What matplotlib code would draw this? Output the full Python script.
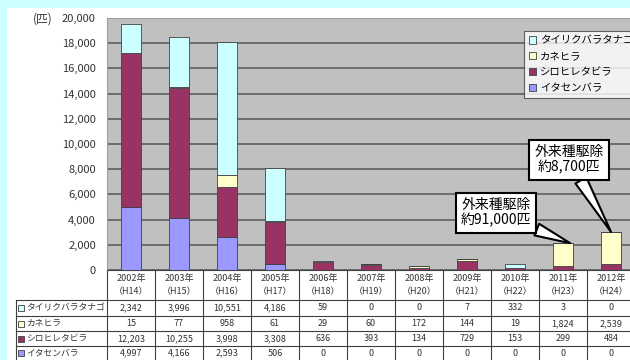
import matplotlib.pyplot as plt
from matplotlib.patches import Patch, Rectangle
from matplotlib.transforms import Affine2D, blended_transform_factory
import numpy as np

plt.rcParams['font.family'] = ['Noto Sans CJK JP', 'DejaVu Sans']

years = ['2002年', '2003年', '2004年', '2005年', '2006年', '2007年',
         '2008年', '2009年', '2010年', '2011年', '2012年']
eras = ['（H14）', '（H15）', '（H16）', '（H17）', '（H18）', '（H19）',
        '（H20）', '（H21）', '（H22）', '（H23）', '（H24）']
species = ['タイリクバラタナゴ', 'カネヒラ', 'シロヒレタビラ', 'イタセンバラ']
tairiku = [2342, 3996, 10551, 4186, 59, 0, 0, 7, 332, 3, 0]
kanehira = [15, 77, 958, 61, 29, 60, 172, 144, 19, 1824, 2539]
shirohire = [12203, 10255, 3998, 3308, 636, 393, 134, 729, 153, 299, 484]
itasen = [4997, 4166, 2593, 506, 0, 0, 0, 0, 0, 0, 0]
colors = ['#ccffff', '#ffffcc', '#993366', '#9999ff']
notes = ['外来種駆除\n約91,000匹', '外来種駆除\n約8,700匹']
note_idx = [9, 10]

W, H = 630, 360
fig = plt.figure(figsize=(W / 100, H / 100), dpi=100, facecolor='#ccffff')
fig.patches.append(Rectangle((7 / W, 0), 1, (H - 8) / H, transform=fig.transFigure,
                             fc='white', ec='none', zorder=-10))

ax = fig.add_axes([107 / W, (H - 270) / H, 528 / W, 252 / H])
ax.set_facecolor('#c0c0c0')
ax.set_xlim(-0.5, 10.5)
ax.set_ylim(0, 20000)
ax.set_yticks(range(0, 20001, 2000))
ax.set_yticklabels([f'{v:,}' for v in range(0, 20001, 2000)], fontsize=8, color='#333333')
ax.tick_params(axis='y', length=0, pad=8)
ax.set_xticks([])
ax.yaxis.grid(True, color='#666666', lw=1.3)
ax.set_axisbelow(True)
for s in ['top', 'right', 'left']:
    ax.spines[s].set_color('#a0a0a0')
ax.spines['bottom'].set_color('#404040')

data = [tairiku, kanehira, shirohire, itasen]
x = np.arange(len(years))
bottom = np.zeros(len(years))
# stack from bottom: イタセンバラ, シロヒレタビラ, カネヒラ, タイリクバラタナゴ
for vals, col in zip(data[::-1], colors[::-1]):
    ax.bar(x, vals, 0.4, bottom=bottom, color=col, edgecolor='#404040', lw=0.6, zorder=3)
    bottom += np.array(vals)

fig.text(33 / W, 1 - 19 / H, '(匹)', fontsize=8.5, va='center', ha='left', color='#333333')

handles = [Patch(fc=c, ec='#404040', lw=0.6) for c in colors]
leg = ax.legend(handles, species, loc='upper left', bbox_to_anchor=(524 / W, 1 - 31 / H),
                bbox_transform=fig.transFigure, fontsize=7.5, frameon=True, fancybox=False,
                borderaxespad=0, handlelength=0.7, handleheight=0.7, handletextpad=0.35,
                labelspacing=0.55, borderpad=0.45)
leg.get_frame().set_edgecolor('#404040')
leg.get_frame().set_linewidth(0.8)
leg.set_zorder(6)

# callouts
offsets = [(496, H - 213), (569, H - 160)]
tips = [0.15, 0.0]
for n, i in enumerate(note_idx):
    ax.annotate(notes[n], xy=(i + tips[n], bottom[i]), xycoords='data',
                xytext=offsets[n], textcoords='figure pixels',
                ha='center', va='center', fontsize=10, linespacing=1.1, zorder=5,
                bbox=dict(boxstyle='square,pad=0.35', fc='white', ec='black', lw=1.5),
                arrowprops=dict(arrowstyle='wedge,tail_width=0.9', fc='white', ec='black',
                                lw=1.5, shrinkA=0, shrinkB=0))

# data table below the chart
toppx = Affine2D().scale(1, -1).translate(0, H)
tcol = blended_transform_factory(ax.transData, toppx)
lc = '#404040'
for k in range(len(years) + 1):
    ax.plot([k - 0.5, k - 0.5], [270, 360], color=lc, lw=0.8, transform=tcol, clip_on=False)
for yy in [300, 316, 331, 346]:
    ax.plot([16, W], [yy, yy], color=lc, lw=0.8, transform=toppx, clip_on=False)
ax.plot([16, 16], [300, 360], color=lc, lw=0.8, transform=toppx, clip_on=False)

for i in range(len(years)):
    ax.text(i, 278, years[i], transform=tcol, ha='center', va='center', fontsize=6.5, color='#333333')
    ax.text(i, 292, eras[i], transform=tcol, ha='center', va='center', fontsize=6.5, color='#333333')

row_y = [308, 323.5, 338.5, 353]
for r, (name, vals, col) in enumerate(zip(species, data, colors)):
    ax.plot([21], [row_y[r]], marker='s', ms=4.5, mfc=col, mec='#404040', mew=0.6,
            transform=toppx, clip_on=False)
    ax.text(26, row_y[r], name, transform=toppx, ha='left', va='center', fontsize=6.3, color='#333333')
    for i, v in enumerate(vals):
        ax.text(i, row_y[r], f'{v:,}', transform=tcol, ha='center', va='center',
                fontsize=6.5, color='#333333')

fig.savefig('out.png', dpi=100, facecolor=fig.get_facecolor())
